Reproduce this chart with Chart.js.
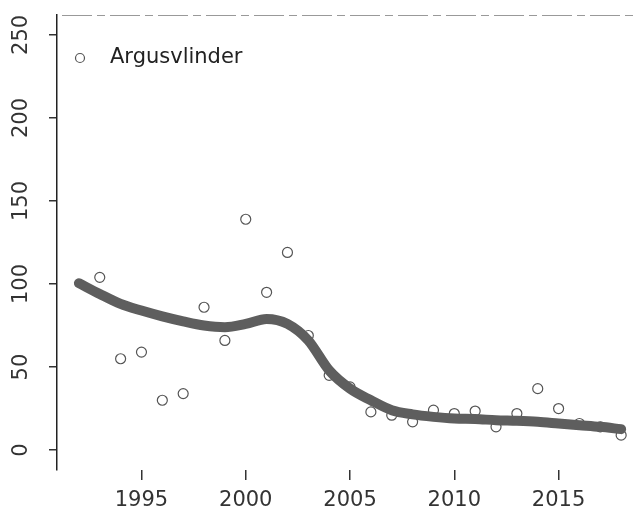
<!DOCTYPE html>
<html>
<head>
<meta charset="utf-8">
<script src="https://cdn.jsdelivr.net/npm/chart.js@4.4.0/dist/chart.umd.min.js"></script>
<style>
    html, body { margin: 0; padding: 0; background: #fff; }
    #wrap { width: 643px; height: 511px; }
</style>
</head>
<body>
<div id="wrap"><canvas id="chart"></canvas></div>
<script>
const seriesName = 'Argusvlinder';

// yearly counts (open circles)
const years  = [1993, 1994, 1995, 1996, 1997, 1998, 1999, 2000, 2001, 2002, 2003, 2004, 2005,
                2006, 2007, 2008, 2009, 2010, 2011, 2012, 2013, 2014, 2015, 2016, 2017, 2018];
const counts = [104, 55, 59, 30, 34, 86, 66, 139, 95, 119, 69, 45, 38,
                23, 21, 17, 24, 22, 23.5, 14, 22, 37, 25, 16, 14, 9];

// smoothed trend (thick grey line)
const trendYears  = [1992, 1993, 1994, 1995, 1996, 1997, 1998, 1999, 2000, 2001, 2002, 2003, 2004, 2005,
                     2006, 2007, 2008, 2009, 2010, 2011, 2012, 2013, 2014, 2015, 2016, 2017, 2018];
const trendValues = [100.5, 94, 88, 84, 80.5, 77.5, 75, 74, 76, 79, 76, 66, 48, 37,
                     30, 24, 21.5, 20, 19, 18.7, 18, 17.6, 17, 16, 15, 14, 12.6];

const xTicks = [1995, 2000, 2005, 2010, 2015];
const yTicks = [0, 50, 100, 150, 200, 250];

const FONT = 'DejaVu Sans';

// rotated y labels, R style, and the dashed top line + legend inside the plot
const decorations = {
    id: 'decorations',
    afterDraw(chart) {
        const ctx = chart.ctx;
        const area = chart.chartArea;
        const y = chart.scales.y;
        ctx.save();
        ctx.fillStyle = '#333';
        ctx.font = '21px "' + FONT + '"';
        ctx.textAlign = 'center';
        ctx.textBaseline = 'middle';
        yTicks.forEach(v => {
            ctx.save();
            ctx.translate(22, y.getPixelForValue(v));
            ctx.rotate(-Math.PI / 2);
            ctx.fillText(String(v), 0, 0);
            ctx.restore();
        });

        ctx.strokeStyle = '#999';
        ctx.lineWidth = 1;
        ctx.setLineDash([30, 5, 8, 5]);
        ctx.beginPath();
        ctx.moveTo(area.left + 5, area.top + 0.5);
        ctx.lineTo(area.right, area.top + 0.5);
        ctx.stroke();
        ctx.setLineDash([]);

        // legend
        const lx = area.left + 23, ly = area.top + 43;
        ctx.strokeStyle = '#555';
        ctx.lineWidth = 1.2;
        ctx.beginPath();
        ctx.arc(lx, ly, 4.5, 0, Math.PI * 2);
        ctx.stroke();
        ctx.textAlign = 'left';
        ctx.fillStyle = '#222';
        ctx.fillText(seriesName, area.left + 53, ly);
        ctx.restore();
    }
};

const ctx = document.getElementById('chart').getContext('2d');
const chart = new Chart(ctx, {
    type: 'line',
    data: {
        datasets: [{
            label: 'trend',
            data: trendYears.map((yr, i) => ({ x: yr, y: trendValues[i] })),
            borderColor: '#5e5e5e',
            borderWidth: 10,
            borderCapStyle: 'round',
            pointRadius: 0,
            fill: false,
            cubicInterpolationMode: 'monotone'
        }, {
            label: seriesName,
            data: years.map((yr, i) => ({ x: yr, y: counts[i] })),
            showLine: false,
            pointStyle: 'circle',
            pointRadius: 5,
            pointBorderWidth: 1.2,
            pointBorderColor: '#555',
            pointBackgroundColor: 'rgba(0,0,0,0)'
        }]
    },
    options: {
        responsive: true,
        maintainAspectRatio: false,
        animation: false,
        layout: { padding: { left: 49, top: 15, right: 0, bottom: -10 } },
        plugins: {
            legend: { display: false },
            tooltip: { enabled: false }
        },
        scales: {
            x: {
                type: 'linear',
                min: 1990.95,
                max: 2018.75,
                afterBuildTicks: (axis) => { axis.ticks = xTicks.map(v => ({ value: v })); },
                border: { display: false },
                grid: { display: true, drawOnChartArea: false, drawTicks: true, tickLength: 10, color: '#333', lineWidth: 1.5 },
                ticks: {
                    padding: 10,
                    color: '#333',
                    font: { family: FONT, size: 21, lineHeight: 1 },
                    maxRotation: 0,
                    callback: (v) => String(v)
                }
            },
            y: {
                type: 'linear',
                min: -12,
                max: 262,
                afterBuildTicks: (axis) => { axis.ticks = yTicks.map(v => ({ value: v })); },
                border: { display: true, color: '#222', width: 1.5 },
                grid: { display: true, drawOnChartArea: false, drawTicks: true, tickLength: 8, color: '#333', lineWidth: 1.5 },
                ticks: { display: false }
            }
        }
    },
    plugins: [decorations]
});
</script>
</body>
</html>
